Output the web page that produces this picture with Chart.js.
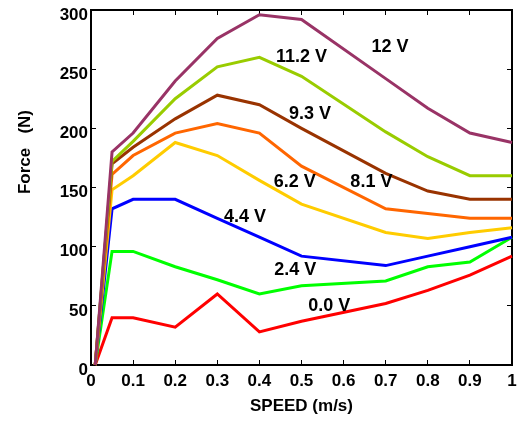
<!DOCTYPE html>
<html>
<head>
<meta charset="utf-8">
<script src="https://cdn.jsdelivr.net/npm/chart.js@4.4.0/dist/chart.umd.min.js"></script>
<style>
  html, body { margin: 0; padding: 0; background: #fff; }
  canvas { display: block; }
</style>
</head>
<body>
<canvas id="chart" width="521" height="428"></canvas>
<script>
// Data (speed in m/s, force in N)
const speeds = [0.01, 0.05, 0.1, 0.2, 0.3, 0.4, 0.5, 0.7, 0.8, 0.9, 1.0];
const force12V = [0, 180, 196, 240, 276, 296, 292, 242, 217, 196, 188];
const force11_2V = [0, 172, 189, 225, 252, 260, 244, 197, 176, 160, 160];
const force9_3V = [0, 170, 184, 208, 228, 220, 200, 162, 147, 140, 140];
const force8_1V = [0, 161, 177, 196, 204, 196, 168, 132, 128, 124, 124];
const force6_2V = [0, 148, 160, 188, 177, 156, 136, 112, 107, 112, 116];
const force4_4V = [0, 132, 140, 140, 124, 108, 92, 84, 92, 100, 108];
const force2_4V = [0, 96, 96, 83, 72, 60, 67, 71, 83, 87, 108];
const force0V = [0, 40, 40, 32, 60, 28, 37, 52, 63, 76, 92];

const voltLabels = ['12 V', '11.2 V', '9.3 V', '8.1 V', '6.2 V', '4.4 V', '2.4 V', '0.0 V'];
// where each voltage label sits, in axis units
const labelSpeed = [0.71, 0.50, 0.52, 0.666, 0.484, 0.366, 0.485, 0.566];
const labelForce = [269, 260, 212, 155, 155, 125, 80, 50];

const seriesList = [force12V, force11_2V, force9_3V, force8_1V, force6_2V, force4_4V, force2_4V, force0V];
const seriesColors = ['#993366', '#99cc00', '#993300', '#ff6600', '#ffcc00', '#0000ff', '#00ff00', '#ff0000'];

const fontFamily = '"Liberation Sans", Arial, Helvetica, sans-serif';
const boldFont = { family: fontFamily, size: 17, weight: 'bold' };

function toPoints(values) {
  return speeds.map((s, i) => ({ x: s, y: values[i] }));
}

// no overhang padding from tick labels, so the layout padding decides the plot box
function noOverhang(s) {
  s.paddingTop = 0;
  s.paddingBottom = 0;
  s.paddingLeft = 0;
  s.paddingRight = 0;
}

const labelPlugin = {
  id: 'voltLabels',
  afterDraw(chart) {
    const { ctx, scales: { x, y } } = chart;
    ctx.save();
    ctx.font = 'bold 18px ' + fontFamily;
    ctx.fillStyle = '#000';
    ctx.textAlign = 'center';
    ctx.textBaseline = 'middle';
    voltLabels.forEach((t, i) => {
      ctx.fillText(t, x.getPixelForValue(labelSpeed[i]), y.getPixelForValue(labelForce[i]));
    });
    // y axis title, rotated
    ctx.font = 'bold 17px ' + fontFamily;
    ctx.translate(25, y.getPixelForValue(180));
    ctx.rotate(-Math.PI / 2);
    ctx.fillText('Force   (N)', 0, 0);
    ctx.restore();
  }
};

const hiddenAxis = (pos) => ({
  type: 'linear',
  position: pos,
  min: 0,
  max: pos === 'top' ? 1 : 300,
  ticks: { display: false, stepSize: pos === 'top' ? 0.1 : 50 },
  grid: { drawOnChartArea: false, tickLength: -5, color: '#000', tickWidth: 1 },
  border: { color: '#000', width: 2 },
  afterFit: s => {
    if (pos === 'top') s.height = 0; else s.width = 0;
    noOverhang(s);
  }
});

new Chart(document.getElementById('chart'), {
  type: 'line',
  data: {
    datasets: seriesList.map((vals, i) => ({
      label: voltLabels[i],
      data: toPoints(vals),
      borderColor: seriesColors[i],
      borderWidth: 3,
      pointRadius: 0,
      tension: 0,
      fill: false,
      clip: false,
      xAxisID: 'x',
      yAxisID: 'y'
    }))
  },
  options: {
    responsive: false,
    animation: false,
    devicePixelRatio: 1,
    layout: { padding: { left: 0, top: 10, right: 9, bottom: 0 } },
    plugins: { legend: { display: false }, tooltip: { enabled: false } },
    scales: {
      x: {
        type: 'linear',
        position: 'bottom',
        min: 0,
        max: 1,
        ticks: {
          stepSize: 0.1,
          autoSkip: false,
          maxRotation: 0,
          padding: 11,
          color: '#000',
          font: boldFont,
          callback: v => String(Number(v.toFixed(1)))
        },
        grid: { drawOnChartArea: false, tickLength: -5, color: '#000', tickWidth: 1 },
        border: { color: '#000', width: 2 },
        title: { display: true, text: 'SPEED (m/s)', color: '#000', font: boldFont, padding: { top: 0, bottom: 11 } },
        afterFit: s => { s.height = 63; noOverhang(s); }
      },
      y: {
        type: 'linear',
        position: 'left',
        min: 0,
        max: 300,
        ticks: { stepSize: 50, padding: 8, labelOffset: 5, color: '#000', font: boldFont },
        grid: { drawOnChartArea: false, tickLength: -5, color: '#000', tickWidth: 1 },
        border: { color: '#000', width: 2 },
        afterFit: s => { s.width = 91; noOverhang(s); }
      },
      x2: hiddenAxis('top'),
      y2: hiddenAxis('right')
    }
  },
  plugins: [labelPlugin]
});
</script>
</body>
</html>
